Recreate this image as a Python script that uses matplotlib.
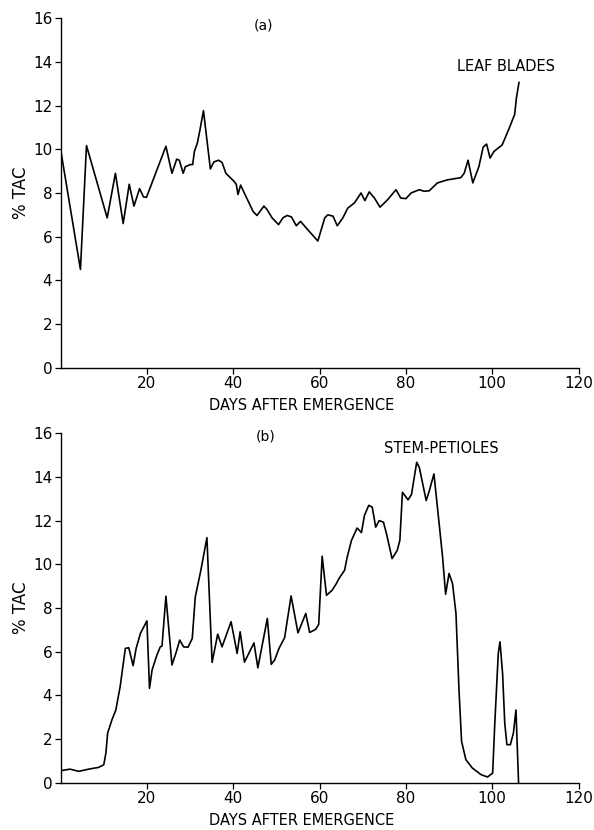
import matplotlib
matplotlib.use("Agg")
import matplotlib.pyplot as plt

# Leaf blades (a) — days after emergence vs % TAC
leaf_days = [0, 4.6, 6.0, 10.8, 12.7, 14.5, 15.9, 17.0, 18.3, 19.2, 19.9, 24.4,
             25.8, 26.9, 27.5, 28.4, 28.9, 30.0, 30.6, 31.0, 31.7, 32.3, 33.1,
             34.7, 35.5, 36.6, 37.4, 38.3, 40.1, 40.7, 41.1, 41.7, 43.4, 44.6,
             45.5, 47.1, 47.8, 49.0, 50.5, 51.5, 52.5, 53.5, 54.6, 55.6, 56.9,
             59.6, 61.2, 61.9, 63.1, 64.1, 65.4, 66.5, 68.1, 69.6, 70.5, 71.5,
             72.7, 74.0, 75.8, 77.7, 78.8, 80.0, 81.2, 83.1, 84.2, 85.4, 87.3,
             89.6, 92.7, 93.5, 94.4, 95.5, 96.9, 97.9, 98.7, 99.5, 100.4, 102.3,
             103.8, 105.2, 105.6, 106.2]
leaf_tac = [10.0, 4.5, 10.17, 6.86, 8.9, 6.6, 8.4, 7.4, 8.2, 7.82, 7.8, 10.14,
            8.9, 9.55, 9.5, 8.9, 9.2, 9.3, 9.3, 9.9, 10.3, 10.9, 11.77,
            9.1, 9.42, 9.5, 9.4, 8.9, 8.55, 8.4, 7.93, 8.36, 7.65, 7.15,
            6.97, 7.4, 7.25, 6.86, 6.55, 6.86, 6.97, 6.9, 6.5, 6.7, 6.4,
            5.8, 6.86, 7.0, 6.94, 6.5, 6.86, 7.3, 7.55, 8.0, 7.65, 8.05,
            7.77, 7.35, 7.7, 8.15, 7.77, 7.74, 8.0, 8.15, 8.08, 8.1, 8.46,
            8.6, 8.7, 8.9, 9.5, 8.46, 9.2, 10.1, 10.24, 9.6, 9.9, 10.2,
            10.9, 11.6, 12.35, 13.06]

# Stem-petioles (b)
stem_days = [0, 2.2, 4.2, 6.5, 8.8, 10.0, 10.5, 10.9, 11.9, 12.8, 13.8, 15.0,
             15.8, 16.8, 17.5, 18.5, 20.0, 20.6, 21.2, 22.3, 23.1, 23.5, 24.4,
             25.8, 26.7, 27.6, 28.5, 29.5, 30.5, 31.2, 32.5, 33.9, 35.1, 36.4,
             37.4, 39.5, 40.9, 41.6, 42.6, 44.8, 45.7, 47.9, 48.8, 49.6, 50.6,
             51.9, 53.4, 55.0, 56.8, 57.7, 59.1, 59.8, 60.6, 61.6, 62.9, 63.9,
             64.5, 65.8, 66.4, 67.4, 68.7, 69.7, 70.4, 71.4, 72.2, 73.0, 73.8,
             74.8, 75.5, 76.8, 78.0, 78.6, 79.2, 80.5, 81.3, 82.5, 83.1, 84.7,
             85.4, 86.5, 87.7, 88.5, 89.2, 90.0, 90.8, 91.6, 92.3, 92.9, 93.9,
             95.4, 97.4, 98.9, 100.1, 100.6, 101.4, 101.8, 102.4, 102.9, 103.4,
             104.2, 104.9, 105.5, 106.1]
stem_tac = [0.55, 0.62, 0.52, 0.62, 0.7, 0.82, 1.36, 2.27, 2.88, 3.33, 4.4, 6.15,
            6.18, 5.36, 6.15, 6.84, 7.41, 4.32, 5.16, 5.84, 6.22, 6.26, 8.54,
            5.39, 5.92, 6.53, 6.22, 6.2, 6.6, 8.5, 9.73, 11.22, 5.51, 6.8,
            6.22, 7.37, 5.92, 6.91, 5.52, 6.4, 5.26, 7.52, 5.42, 5.62, 6.15,
            6.64, 8.55, 6.86, 7.75, 6.88, 7.02, 7.25, 10.37, 8.58, 8.81, 9.12,
            9.35, 9.73, 10.33, 11.1, 11.66, 11.45, 12.24, 12.7, 12.62, 11.7, 12.0,
            11.93, 11.4, 10.26, 10.64, 11.1, 13.3, 12.95, 13.2, 14.67, 14.44, 12.92,
            13.35, 14.14, 11.86, 10.33, 8.63, 9.58, 9.12, 7.75, 4.25, 1.89, 1.05,
            0.67, 0.37, 0.26, 0.44, 2.73, 5.92, 6.45, 5.0, 2.73, 1.74,
            1.74, 2.27, 3.33, 0.0]

x_ticks = [20, 40, 60, 80, 100, 120]
y_ticks = [0, 2, 4, 6, 8, 10, 12, 14, 16]

fig = plt.figure(figsize=(5.94, 8.30), dpi=100)
ax_a = fig.add_axes([0.102, 0.557, 0.872, 0.421])
ax_b = fig.add_axes([0.102, 0.057, 0.872, 0.421])

panels = [
    (ax_a, leaf_days, leaf_tac, "(a)", (47, 15.66), "LEAF BLADES", (103.2, 13.8)),
    (ax_b, stem_days, stem_tac, "(b)", (47.5, 15.85), "STEM-PETIOLES", (88.3, 15.3)),
]

for ax, xs, ys, tag, tag_pos, name, name_pos in panels:
    ax.plot(xs, ys, color="black", lw=1.2)
    ax.set_xlim(0, 120)
    ax.set_ylim(0, 16)
    ax.set_xticks(x_ticks)
    ax.set_yticks(y_ticks)
    ax.spines["top"].set_visible(False)
    ax.spines["right"].set_visible(False)
    for s in ("left", "bottom"):
        ax.spines[s].set_linewidth(1.0)
    ax.tick_params(direction="out", length=4, width=0.9, labelsize=11, pad=2)
    ax.set_xlabel("DAYS AFTER EMERGENCE", fontsize=10.5)
    ax.xaxis.set_label_coords(0.465, -0.088)
    ax.set_ylabel("% TAC", fontsize=12)
    ax.yaxis.set_label_coords(-0.06, 0.5)
    ax.text(*tag_pos, tag, ha="center", va="center", fontsize=10)
    ax.text(*name_pos, name, ha="center", va="center", fontsize=10.5)

fig.savefig("out.png", dpi=100, facecolor="white")
